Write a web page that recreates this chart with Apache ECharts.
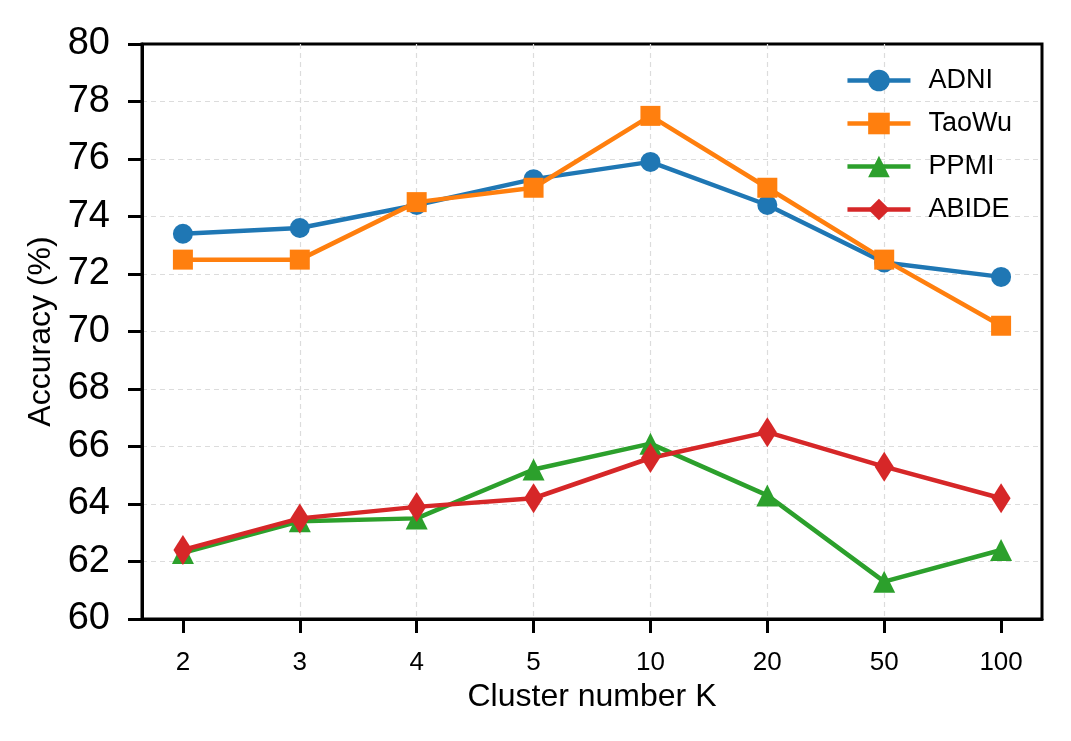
<!DOCTYPE html>
<html>
<head>
<meta charset="utf-8">
<script src="https://cdn.jsdelivr.net/npm/echarts@6/dist/echarts.min.js"></script>
<style>html,body{margin:0;padding:0;background:#fff}#c{width:1071px;height:741px}</style>
</head>
<body>
<div id="c"></div>
<script>
const categories = ['2', '3', '4', '5', '10', '20', '50', '100'];
const adni  = [73.4, 73.6, 74.4, 75.3, 75.9, 74.4, 72.4, 71.9];
const taowu = [72.5, 72.5, 74.5, 75.0, 77.5, 75.0, 72.5, 70.2];
const ppmi  = [62.3, 63.4, 63.5, 65.2, 66.1, 64.3, 61.3, 62.4];
const abide = [62.4, 63.5, 63.9, 64.2, 65.6, 66.5, 65.3, 64.2];
const yTicks = [60, 62, 64, 66, 68, 70, 72, 74, 76, 78, 80];

const idx = categories.map((_, i) => i);
const toPts = arr => arr.map((v, i) => [i, v]);
const FONT = 'Liberation Sans, Arial, sans-serif';
const diamond = 'path://M0,-10 L6,0 L0,10 L-6,0 Z';

function mk(name, data, color, symbol, size) {
  return {
    name, type: 'line', data: toPts(data), symbol, symbolSize: size,
    lineStyle: { color, width: 4.5 }, itemStyle: { color },
    z: 3
  };
}

const chart = echarts.init(document.getElementById('c'), null, { renderer: 'canvas' });
chart.setOption({
  animation: false,
  backgroundColor: '#fff',
  textStyle: { fontFamily: FONT },
  grid: {
    left: 142, right: 29, top: 44, bottom: 122,
    show: true, borderColor: '#000', borderWidth: 3, backgroundColor: 'transparent'
  },
  legend: {
    right: 54, top: 62, orient: 'vertical',
    itemWidth: 63, itemHeight: 27, itemGap: 16,
    lineStyle: { width: 4.5 },
    textStyle: { fontSize: 27, color: '#000', fontFamily: FONT, padding: [0, 0, 0, 13] },
    data: ['ADNI', 'TaoWu', 'PPMI', 'ABIDE']
  },
  xAxis: {
    type: 'value', min: -0.35, max: 7.35,
    name: 'Cluster number K', nameLocation: 'middle', nameGap: 60,
    nameTextStyle: { fontSize: 32, color: '#000', fontFamily: FONT },
    axisLine: { show: true, onZero: false, lineStyle: { color: '#000', width: 3 } },
    axisTick: { show: true, customValues: idx, length: 14, lineStyle: { color: '#000', width: 3 } },
    axisLabel: {
      customValues: idx, margin: 31, fontSize: 26, color: '#000', fontFamily: FONT,
      formatter: v => categories[Math.round(v)] ?? ''
    },
    splitLine: { show: true, showMinLine: false, showMaxLine: false,
      lineStyle: { color: '#dcdcdc', type: [5, 4], width: 1.2 } }
  },
  yAxis: {
    type: 'value', min: 60, max: 80, interval: 2,
    name: 'Accuracy (%)', nameLocation: 'middle', nameGap: 82,
    nameTextStyle: { fontSize: 32, color: '#000', fontFamily: FONT },
    axisLine: { show: true, onZero: false, lineStyle: { color: '#000', width: 3 } },
    axisTick: { show: true, length: 14, lineStyle: { color: '#000', width: 3 } },
    axisLabel: { margin: 32, fontSize: 38, color: '#000', fontFamily: FONT,
      formatter: v => yTicks.includes(v) ? String(v) : '' },
    splitLine: { show: true, showMinLine: false, showMaxLine: false,
      lineStyle: { color: '#dcdcdc', type: [5, 4], width: 1.2 } }
  },
  series: [
    mk('ADNI', adni, '#1f77b4', 'circle', 20),
    mk('TaoWu', taowu, '#ff7f0e', 'rect', 20),
    mk('PPMI', ppmi, '#2ca02c', 'triangle', 22),
    mk('ABIDE', abide, '#d62728', diamond, [19, 30])
  ]
});
</script>
</body>
</html>
